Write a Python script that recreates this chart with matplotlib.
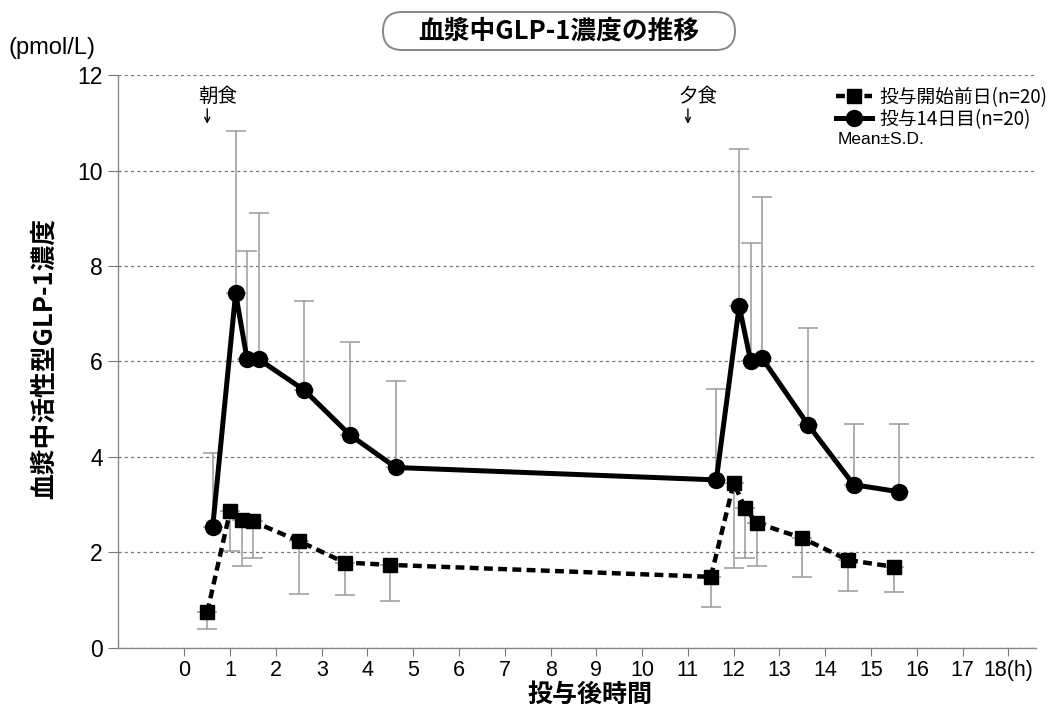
import numpy as np
import matplotlib.pyplot as plt
from matplotlib.patches import FancyBboxPatch
from matplotlib.transforms import IdentityTransform

plt.rcParams['font.family'] = ['Noto Sans CJK JP', 'DejaVu Sans']

# sampling times (h)
hours = [0.5, 1, 1.25, 1.5, 2.5, 3.5, 4.5, 11.5, 12, 12.25, 12.5, 13.5, 14.5, 15.5]
tick_hours = list(range(0, 19))

# day before start of dosing (mean, lower S.D.)
pre_mean = [0.75, 2.87, 2.68, 2.65, 2.24, 1.79, 1.74, 1.49, 3.45, 2.93, 2.62, 2.30, 1.84, 1.70]
pre_low = [0.39, 2.04, 1.72, 1.88, 1.12, 1.11, 0.99, 0.86, 1.67, 1.88, 1.72, 1.49, 1.20, 1.18]

# day 14 of dosing (mean, upper S.D.)
d14_mean = [2.54, 7.43, 6.05, 6.05, 5.40, 4.46, 3.78, 3.52, 7.16, 6.01, 6.07, 4.68, 3.42, 3.27]
d14_high = [4.09, 10.83, 8.32, 9.12, 7.27, 6.40, 5.59, 5.42, 10.44, 8.48, 9.44, 6.71, 4.70, 4.69]

meals = [('朝食', 0.5), ('夕食', 11.0)]
shift = 0.12  # circles drawn slightly to the right of the squares

num_font = ['Liberation Sans', 'DejaVu Sans']

fig = plt.figure(figsize=(10.57, 7.13), dpi=100)
ax = fig.add_axes([0.1116, 0.0912, 0.8684, 0.8036])

x_pre = np.array(hours)
x_d14 = np.array(hours) + shift
pre_mean = np.array(pre_mean)
d14_mean = np.array(d14_mean)

errc = '#9a9a9a'
ax.errorbar(x_pre, pre_mean, yerr=[pre_mean - np.array(pre_low), np.zeros(len(hours))],
            fmt='none', ecolor=errc, elinewidth=1.1, capsize=7, capthick=1.1, zorder=2)
ax.errorbar(x_d14, d14_mean, yerr=[np.zeros(len(hours)), np.array(d14_high) - d14_mean],
            fmt='none', ecolor=errc, elinewidth=1.1, capsize=7, capthick=1.1, zorder=2)

l1, = ax.plot(x_pre, pre_mean, color='black', linestyle=(0, (2.0, 1.2)), linewidth=3.2,
              marker='s', markersize=10.5, zorder=3)
l2, = ax.plot(x_d14, d14_mean, color='black', linestyle='-', linewidth=3.6,
              marker='o', markersize=11.5, zorder=4)

ax.set_xlim(-1.45, 18.6)
ax.set_ylim(0, 12)
ax.set_yticks(range(0, 13, 2))
ax.set_xticks(tick_hours)
xlabels = [str(h) for h in tick_hours]
xlabels[-1] = '18(h)'
ax.set_xticklabels(xlabels, fontsize=15.5, family=num_font)
ax.tick_params(axis='y', labelsize=16.5, length=7, color='#777777', pad=4)
ax.tick_params(axis='x', length=6, color='#777777', pad=3)
for lab in ax.get_yticklabels():
    lab.set_family(num_font)
ax.grid(axis='y', linestyle=(0, (2.5, 2.5)), color='#777777', linewidth=0.9)
ax.set_axisbelow(True)
for s in ['top', 'right']:
    ax.spines[s].set_visible(False)
for s in ['left', 'bottom']:
    ax.spines[s].set_color('#888888')
    ax.spines[s].set_linewidth(1.0)

ax.set_xlabel('投与後時間', fontsize=18, fontweight='bold')
ax.xaxis.set_label_coords(0.514, -0.061)
ax.set_ylabel('血漿中活性型GLP-1濃度', fontsize=18.5, fontweight='bold')
ax.yaxis.set_label_coords(-0.066, 0.505)

for name, t in meals:
    ax.text(t + 0.22, 11.55, name, fontsize=14, ha='center', va='center')
    ax.annotate('', xy=(t, 10.92), xytext=(t, 11.35),
                arrowprops=dict(arrowstyle='->', color='black', lw=1.0,
                                mutation_scale=9))

leg = ax.legend([l1, l2], ['投与開始前日(n=20)', '投与14日目(n=20)'],
                loc='upper left', bbox_to_anchor=(836 / 1057, 1 - 87 / 713),
                bbox_transform=fig.transFigure, frameon=False,
                fontsize=13.5, handlelength=1.9, handletextpad=0.4,
                labelspacing=0.05, borderaxespad=0, borderpad=0)
fig.text(838 / 1057, 1 - 140 / 713, 'Mean±S.D.', fontsize=12.5, ha='left', va='center',
         family=num_font)

fig.text(0.008, 1 - 48 / 713, '(pmol/L)', fontsize=17, ha='left', va='center',
         family=num_font)

# rounded title box (pixel coordinates)
box = FancyBboxPatch((383, 713 - 50), 352, 38, boxstyle='round,pad=0,rounding_size=19',
                     transform=IdentityTransform(), fc='white', ec='#888888', lw=1.4)
fig.patches.append(box)
fig.text(559 / 1057, 1 - 31 / 713, '血漿中GLP-1濃度の推移', fontsize=18.5, fontweight='bold',
         ha='center', va='center')

plt.savefig('out.png', dpi=100)
